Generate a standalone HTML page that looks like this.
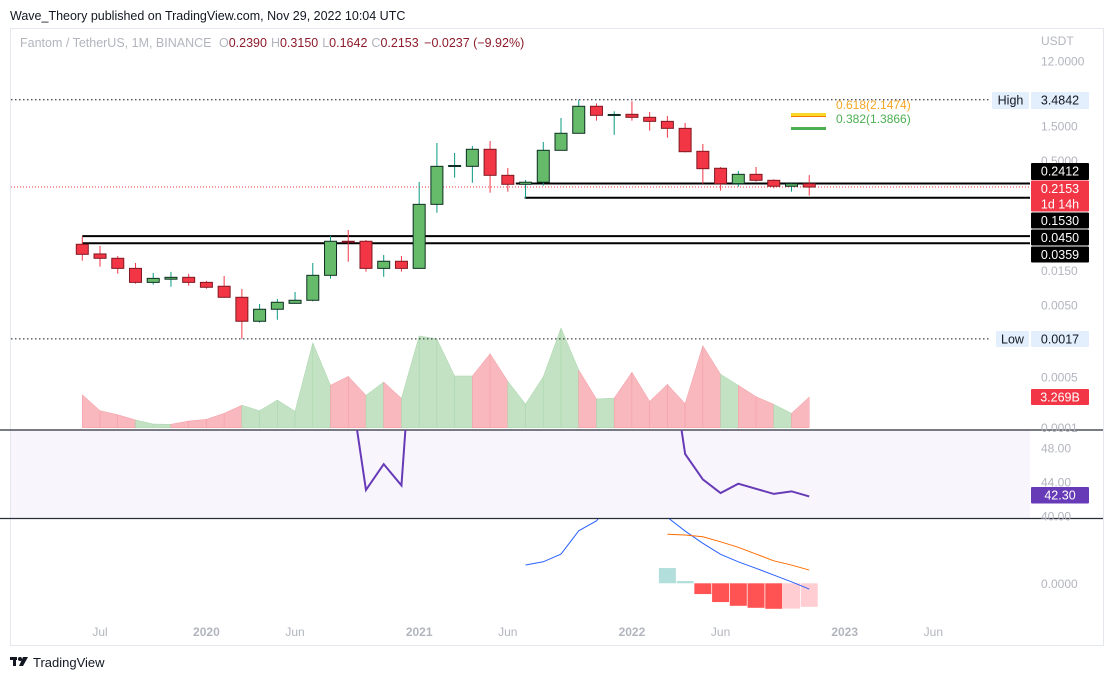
<!DOCTYPE html>
<html><head><meta charset="utf-8"><style>
html,body{margin:0;padding:0;background:#fff;width:1111px;height:680px;overflow:hidden;font-family:"Liberation Sans",sans-serif}
svg text{font-family:"Liberation Sans",sans-serif}
</style></head><body>
<svg id="c" width="1111" height="680" xmlns="http://www.w3.org/2000/svg">
<text x="10" y="20" font-size="12.5" fill="#131722">Wave_Theory published on TradingView.com, Nov 29, 2022 10:04 UTC</text>
<rect x="10.5" y="28.5" width="1093" height="617" fill="none" stroke="#e6e8ef"/>
<rect x="11" y="430" width="1019" height="88" fill="#f8f5fc"/>
<g id="g"></g>
<text x="20" y="47" font-size="12.5" fill="#b2b5be">Fantom / TetherUS, 1M, BINANCE <tspan dx="4">O</tspan><tspan fill="#8d1b2b">0.2390</tspan><tspan dx="4">H</tspan><tspan fill="#8d1b2b">0.3150</tspan><tspan dx="4">L</tspan><tspan fill="#8d1b2b">0.1642</tspan><tspan dx="4">C</tspan><tspan fill="#8d1b2b">0.2153 <tspan dx="2">−0.0237 (−9.92%)</tspan></tspan></text>
<g>
<rect x="791" y="113" width="35" height="3" fill="#fbd72a"/><rect x="791" y="116" width="35" height="1" fill="#f57c00"/>
<rect x="791" y="127" width="35" height="3" fill="#4caf50"/>
<text x="836" y="109" font-size="12" fill="#f5a623">0.618(2.1474)</text>
<text x="836" y="123" font-size="12" fill="#4caf50">0.382(1.3866)</text>
</g>
<g>
<rect x="10" y="657" width="7" height="3" fill="#131722"/><rect x="13" y="657" width="3" height="9" fill="#131722"/><circle cx="20" cy="659" r="2" fill="#131722"/><polygon points="23,657 28,657 23,666 19,666" fill="#131722"/>
<text x="33" y="667" font-size="13" fill="#131722">TradingView</text>
</g>
</svg>
<script>
const months=['Jun19','Jul','Aug','Sep','Oct','Nov','Dec','Jan20','Feb','Mar','Apr','May','Jun','Jul','Aug','Sep','Oct','Nov','Dec','Jan21','Feb','Mar','Apr','May','Jun','Jul','Aug','Sep','Oct','Nov','Dec','Jan22','Feb','Mar','Apr','May','Jun','Jul','Aug','Sep','Oct','Nov22'];
const open=[0.0347,0.0255,0.0222,0.0161,0.0103,0.0114,0.0121,0.0103,0.0091,0.0064,0.00298,0.00437,0.00528,0.00582,0.0129,0.0382,0.0382,0.0161,0.0202,0.0161,0.124,0.417,0.417,0.718,0.313,0.235,0.251,0.695,1.196,2.83,2.14,2.19,1.99,1.75,1.40,0.673,0.392,0.240,0.323,0.267,0.2208,0.2390];
const high=[0.0442,0.0329,0.0239,0.0191,0.0139,0.0144,0.0135,0.0108,0.0126,0.00834,0.00517,0.00607,0.00757,0.0191,0.0456,0.0547,0.0398,0.0247,0.0239,0.253,0.877,0.638,0.798,0.935,0.395,0.270,0.906,1.947,3.4842,3.11,2.41,3.32,2.36,2.08,1.66,0.850,0.408,0.359,0.408,0.276,0.245,0.3150];
const low=[0.0206,0.0170,0.0136,0.00987,0.00957,0.00897,0.00927,0.00841,0.0063,0.0017,0.00285,0.00313,0.00525,0.00563,0.0116,0.0199,0.0145,0.0123,0.0145,0.0161,0.095,0.290,0.247,0.180,0.186,0.150,0.225,0.695,1.196,1.79,1.14,1.79,1.30,1.04,0.652,0.240,0.192,0.218,0.255,0.207,0.186,0.1642];
const close=[0.0252,0.0222,0.0161,0.0103,0.0117,0.0121,0.0103,0.00881,0.0064,0.00298,0.00437,0.00546,0.00582,0.0129,0.0382,0.0373,0.0161,0.0202,0.0161,0.124,0.417,0.428,0.718,0.313,0.235,0.251,0.695,1.196,2.83,2.12,2.18,1.99,1.75,1.40,0.665,0.387,0.240,0.323,0.267,0.221,0.2390,0.2153];
const volumeB=[3.51,1.81,1.38,0.82,0.39,0.36,0.71,0.89,1.53,2.39,1.81,2.95,1.75,9.05,4.52,5.47,3.45,4.87,3.13,9.77,9.45,5.51,5.51,7.88,4.94,2.52,5.43,10.62,6.15,3.06,3.16,5.90,2.81,4.62,2.56,8.73,5.69,4.52,3.30,2.49,1.53,3.269];
const rsi=[null,null,null,null,null,null,null,null,null,null,null,null,null,null,60,57.1,43.06,46.1,43.6,72.8,85,84,86,75,70,70,78,82,86,82,80,76,70,61.3,47.3,44.3,42.7,43.8,43.2,42.6,42.9,42.3];
const macd=[null,null,null,null,null,null,null,null,null,null,null,null,null,null,null,null,null,null,null,null,null,null,null,null,null,0.073,0.086,0.117,0.210,0.25,0.33,0.36,0.34,0.264,0.209,0.160,0.116,0.086,0.060,0.033,0.006,-0.023];
const signal=[null,null,null,null,null,null,null,null,null,null,null,null,null,null,null,null,null,null,null,null,null,null,null,null,null,null,null,null,null,null,null,null,null,0.196,0.193,0.186,0.166,0.144,0.117,0.090,0.073,0.053];
const hist=[null,null,null,null,null,null,null,null,null,null,null,null,null,null,null,null,null,null,null,null,null,null,null,null,null,null,null,null,null,null,null,null,null,0.061,0.009,-0.043,-0.075,-0.090,-0.098,-0.102,-0.101,-0.094];
const priceTicks=['12.0000','1.5000','0.5000','0.0150','0.0050','0.0005','0.0001'];
const rsiTicks=['48.00','44.00','40.00'];
const levels=[0.2412,0.1530,0.0450,0.0359];
const levelStart=[24.45,24.95,0,0];
const timeLabels=[['Jul',1,0],['2020',7,1],['Jun',12,0],['2021',19,1],['Jun',24,0],['2022',31,1],['Jun',36,0],['2023',43,1],['Jun',48,0]];

const NS='http://www.w3.org/2000/svg';
const g=document.getElementById('g');
function el(tag,attrs,parent){const e=document.createElementNS(NS,tag);for(const k in attrs)e.setAttribute(k,attrs[k]);(parent||g).appendChild(e);return e;}
const X=i=>82.3+i*17.73;
const Y=p=>138.9-72.2*Math.log10(p);
const VY=v=>427.7-v*9.39;
const RY=v=>448+(48-v)*8.5;
const MY=v=>583.3-v/0.004;
const RIGHT=1030;

const defs=el('defs',{});
const c1=el('clipPath',{id:'rsiclip'},defs);el('rect',{x:11,y:430,width:1019,height:88},c1);
const c2=el('clipPath',{id:'macdclip'},defs);el('rect',{x:11,y:519,width:1019,height:126},c2);

const volG=el('g',{});


for(let i=1;i<volumeB.length;i++){
  const up=close[i]>=open[i];
  const p=el('polygon',{points:`${X(i-1)},${VY(volumeB[i-1])} ${X(i)},${VY(volumeB[i])} ${X(i)},427.7 ${X(i-1)},427.7`,fill:up?'#c3e2c4':'#f9b8be',stroke:up?'#a8d5aa':'#f39aa3','stroke-width':0.5},volG);
  
  
}

el('line',{x1:11,x2:990,y1:Y(3.4842),y2:Y(3.4842),stroke:'#131722','stroke-dasharray':'1.5,2.5','stroke-width':1});
el('line',{x1:11,x2:990,y1:Y(0.0017),y2:Y(0.0017),stroke:'#131722','stroke-dasharray':'1.5,2.5','stroke-width':1});
el('line',{x1:11,x2:RIGHT,y1:Y(0.2153),y2:Y(0.2153),stroke:'#f23645','stroke-dasharray':'1,2','stroke-width':1});

levels.forEach((lv,k)=>{
  const l=el('line',{x1:X(levelStart[k]),x2:RIGHT,y1:Y(lv),y2:Y(lv),stroke:'#000','stroke-width':2});
  
  
});

for(let i=0;i<open.length;i++){
  const up=close[i]>=open[i];
  const cg=el('g',{});
  
  
  el('line',{x1:X(i),x2:X(i),y1:Y(high[i]),y2:Y(low[i]),stroke:up?'#089981':'#f23645','stroke-width':1},cg);
  const t=Y(Math.max(open[i],close[i])),b=Y(Math.min(open[i],close[i]));
  el('rect',{x:X(i)-6,y:t,width:12,height:Math.max(b-t,1),fill:up?'#66bb6a':'#f23645',stroke:up?'#0d2e22':'#801922','stroke-width':1},cg);
}

el('line',{x1:0,x2:1103,y1:430,y2:430,stroke:'#2a2e39','stroke-width':1.2});
el('line',{x1:0,x2:1103,y1:518.5,y2:518.5,stroke:'#2a2e39','stroke-width':1.2});

let pts=[];rsi.forEach((v,i)=>{if(v!==null)pts.push(X(i)+','+RY(v));});
const rl=el('polyline',{points:pts.join(' '),fill:'none',stroke:'#673ab7','stroke-width':2,'clip-path':'url(#rsiclip)'});



hist.forEach((v,i)=>{if(v===null)return;
  const prev=hist[i-1];
  let col;if(v>=0)col='#b2dfdb';else col=(prev!==null&&v<prev)?'#ff5252':'#ffcdd2';
  const y1=MY(Math.max(v,0)),y2=MY(Math.min(v,0));
  const r=el('rect',{x:X(i)-8.5,y:y1,width:17,height:y2-y1,fill:col,'clip-path':'url(#macdclip)'});
  
  
});
pts=[];macd.forEach((v,i)=>{if(v!==null)pts.push(X(i)+','+MY(v));});
const ml=el('polyline',{points:pts.join(' '),fill:'none',stroke:'#2962ff','stroke-width':1,'clip-path':'url(#macdclip)'});


pts=[];signal.forEach((v,i)=>{if(v!==null)pts.push(X(i)+','+MY(v));});
const sl=el('polyline',{points:pts.join(' '),fill:'none',stroke:'#ff6d00','stroke-width':1,'clip-path':'url(#macdclip)'});



const at=el('text',{x:1041,y:45,'font-size':12,fill:'#b2b5be'});at.textContent='USDT';

priceTicks.forEach(t=>{const e=el('text',{x:1041,y:Y(parseFloat(t))+4.5,'font-size':12,fill:'#b2b5be'});e.textContent=t;
  });
rsiTicks.forEach(t=>{const e=el('text',{x:1041,y:RY(parseFloat(t))+4.5,'font-size':12,fill:'#b2b5be'});e.textContent=t;
  });
const z=el('text',{x:1041,y:MY(0)+4.5,'font-size':12,fill:'#b2b5be'});z.textContent='0.0000';

timeLabels.forEach(([t,i,b])=>{const e=el('text',{x:X(i),y:636,'font-size':12,fill:'#b2b5be','text-anchor':'middle','font-weight':b?'bold':'normal'});e.textContent=t;
  });

function box(x,y,w,h,bg,fg,txt,name){
  const bg_=el('g',{});
  
  
  el('rect',{x:x,y:y,width:w,height:h,fill:bg,rx:1},bg_);
  txt.forEach((t,k)=>{const e=el('text',{x:x+w/2,y:y+12.5+k*15.5,'font-size':12.5,fill:fg,'text-anchor':'middle'},bg_);e.textContent=t;});
}
box(992,92,37,17,'#e3effd','#131722',['High'],'high-label');
box(1031,92,58,17,'#e3effd','#131722',['3.4842'],'high-value');
box(996,331,33,16,'#e3effd','#131722',['Low'],'low-label');
box(1031,331,58,16,'#e3effd','#131722',['0.0017'],'low-value');
box(1031,163,58,17,'#000','#fff',['0.2412'],'level-label');
box(1031,180.5,58,31,'#f23645','#fff',['0.2153','1d 14h'],'last-price-label');
box(1031,212.5,58,16,'#000','#fff',['0.1530'],'level-label');
box(1031,229.5,58,16,'#000','#fff',['0.0450'],'level-label');
box(1031,246.5,58,16,'#000','#fff',['0.0359'],'level-label');
box(1031,389,58,16,'#f23645','#fff',['3.269B'],'volume-label');
box(1031,487,58,16.5,'#673ab7','#fff',['42.30'],'rsi-value-label');
</script>
</body></html>
